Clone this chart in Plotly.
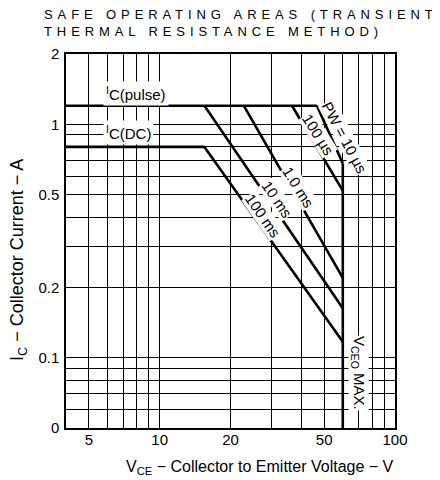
import math
import plotly.graph_objects as go

# ---- axis grid / tick labels ----
x_grid = [5, 6, 7, 8, 9, 10, 20, 30, 40, 50, 60, 70, 80, 90, 100]
x_ticklabels = ['5', '', '', '', '', '10', '20', '', '', '50', '', '', '', '', '100']
y_grid = [0.05, 0.06, 0.07, 0.08, 0.09, 0.1, 0.2, 0.3, 0.4, 0.5, 0.6, 0.7, 0.8, 0.9, 1, 2]
y_ticklabels = ['0', '', '', '', '', '0.1', '0.2', '', '', '0.5', '', '', '', '', '1', '2']

# ---- limits ----
v_min = 4
v_max = 100
i_min = 0.05
i_max = 2
ic_pulse = 1.2
ic_dc = 0.8
vceo_max = 60

# ---- pulse-width limit lines (knee point -> end on VCEO line) ----
pw_names = ['PW = 10 µs', '100 µs', '1.0 ms', '10 ms', '100 ms']
knee_v = [46.6, 36.5, 22.8, 15.5, 15.5]
knee_i = [1.2, 1.2, 1.2, 1.2, 0.8]
end_i = [0.68, 0.52, 0.22, 0.163, 0.117]

# label positions (V, I) and angles
lab_v = [61.2, 47.0, 39.0, 31.5, 27.4]
lab_i = [0.882, 0.90, 0.538, 0.474, 0.405]
lab_ang = [62, 58, 58, 56, 55]

FONT = "Liberation Sans, Arial, sans-serif"
LW = 2.6

# page body has an 8px margin; plot area in page px: x 66..395, y 54..428
OFF = 8
def px(xp):
    return (xp - 66) / 329
def py(yp):
    return (428 - yp) / 374

fig = go.Figure()

def seg(xs, ys):
    fig.add_trace(go.Scatter(x=xs, y=ys, mode='lines',
                             line=dict(color='black', width=LW),
                             showlegend=False, hoverinfo='skip'))

seg([v_min, knee_v[0]], [ic_pulse, ic_pulse])
seg([v_min, knee_v[4]], [ic_dc, ic_dc])
for k in range(len(pw_names)):
    seg([knee_v[k], vceo_max], [knee_i[k], end_i[k]])
seg([vceo_max, vceo_max], [end_i[0], i_min])

ann = []
for k, name in enumerate(pw_names):
    ann.append(dict(x=math.log10(lab_v[k]), y=math.log10(lab_i[k]), xref='x', yref='y',
                    xanchor='center', yanchor='middle',
                    text=name, showarrow=False, textangle=lab_ang[k],
                    font=dict(family=FONT, size=15, color='black'),
                    bgcolor='white', borderpad=0))

ann.append(dict(x=math.log10(7.9), y=math.log10(1.35), xref='x', yref='y',
                xanchor='center', yanchor='middle',
                text='<sup>I</sup>C(pulse)', showarrow=False,
                font=dict(family=FONT, size=15, color='black'),
                bgcolor='white', borderpad=2))
ann.append(dict(x=math.log10(7.38), y=math.log10(0.918), xref='x', yref='y',
                xanchor='center', yanchor='middle',
                text='<sup>I</sup>C(DC)', showarrow=False,
                font=dict(family=FONT, size=15, color='black'),
                bgcolor='white', borderpad=2))
ann.append(dict(x=math.log10(70.3), y=math.log10(0.086), xref='x', yref='y',
                xanchor='center', yanchor='middle',
                text='V<sub>CEO</sub> MAX.', showarrow=False, textangle=90,
                font=dict(family=FONT, size=15, color='black'),
                bgcolor='white', borderpad=0))

# titles
ann.append(dict(x=px(42), y=py(5), xref='paper', yref='paper',
                xanchor='left', yanchor='top', align='left', showarrow=False,
                text='<span style="letter-spacing:4.9px">SAFE OPERATING AREAS (TRANSIENT</span><br>'
                     '<span style="letter-spacing:4.9px">THERMAL RESISTANCE METHOD)</span>',
                font=dict(family=FONT, size=13, color='black')))
ann.append(dict(x=px(260), y=py(467), xref='paper', yref='paper',
                xanchor='center', yanchor='middle',
                showarrow=False, text='V<sub>CE</sub> − Collector to Emitter Voltage − V',
                font=dict(family=FONT, size=16, color='black')))
ann.append(dict(x=px(18), y=py(260), xref='paper', yref='paper',
                xanchor='center', yanchor='middle',
                showarrow=False, textangle=-90, text='I<sub>C</sub> − Collector Current − A',
                font=dict(family=FONT, size=18, color='black')))

fig.update_layout(
    width=440 - OFF, height=480 - OFF,
    margin=dict(l=66 - OFF, r=45, t=54 - OFF, b=52),
    paper_bgcolor='white', plot_bgcolor='white',
    font=dict(family=FONT, size=15, color='black'),
    annotations=ann,
    xaxis=dict(type='log', range=[math.log10(v_min), math.log10(v_max)],
               tickmode='array', tickvals=x_grid, ticktext=x_ticklabels,
               showgrid=True, gridcolor='black', gridwidth=1,
               showline=True, linecolor='black', linewidth=1.5, mirror=True,
               ticks='', zeroline=False, ticklabelstandoff=-3,
               tickfont=dict(family=FONT, size=15, color='black')),
    yaxis=dict(type='log', range=[math.log10(i_min), math.log10(i_max)],
               tickmode='array', tickvals=y_grid, ticktext=y_ticklabels,
               showgrid=True, gridcolor='black', gridwidth=1,
               showline=True, linecolor='black', linewidth=1.5, mirror=True,
               ticks='', zeroline=False, ticklabelstandoff=2,
               tickfont=dict(family=FONT, size=15, color='black')),
)

fig.write_html("out.html")
